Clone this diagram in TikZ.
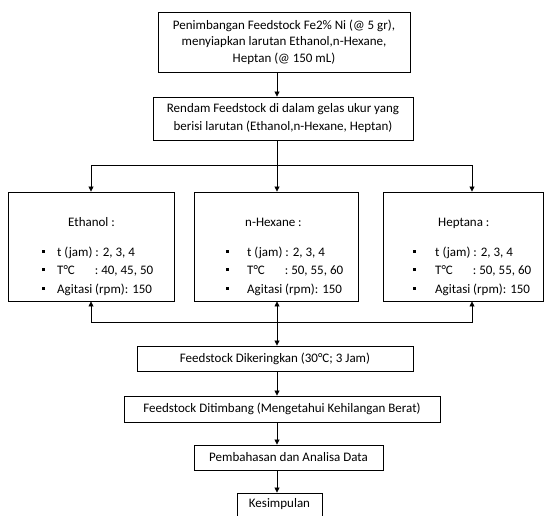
\documentclass[tikz,border=0pt]{standalone}
\usepackage{fontspec}
\setmainfont{Carlito}
\usetikzlibrary{arrows.meta}

\newcommand{\sq}{\raisebox{0.28em}{\rule{3pt}{3pt}}}
% #1 title, #2 title indent, #3 temperatures, #4 bullet gap
\newcommand{\solvlist}[4]{%
  \begin{tabular}{@{}p{#4}@{}l@{}}
    & \hspace*{#2}#1 :\\[11.5pt]
    \sq & t (jam) : 2, 3, 4\\
    \sq & T°C\hspace{20pt}: #3\\
    \sq & Agitasi (rpm): 150
  \end{tabular}}

\begin{document}
\begin{tikzpicture}[x=1pt, y=-1pt,
    main/.style = {draw, rectangle, line width=0.9pt, inner sep=0pt, align=center,
                   font=\fontsize{13}{16.5}\selectfont},
    list/.style = {inner sep=0pt, anchor=west, font=\fontsize{13}{18.5}\selectfont},
    arr/.style = {-{Triangle[length=5pt,width=5pt]}, line width=0.8pt},
    link/.style = {line width=0.8pt}]
    \useasboundingbox (0,0) rectangle (545,515);

    \node[main, minimum width=252pt, minimum height=60pt] (start) at (284,42)
        {Penimbangan Feedstock Fe2\% Ni (@ 5 gr),\\ menyiapkan larutan Ethanol,n-Hexane,\\ Heptan (@ 150 mL)};
    \node[main, minimum width=260pt, minimum height=43pt, font=\fontsize{13}{18}\selectfont] (soak) at (283,118.5)
        {Rendam Feedstock di dalam gelas ukur yang\\ berisi larutan (Ethanol,n-Hexane, Heptan)};

    \node[main, minimum width=166pt, minimum height=109pt] (eth) at (91,246.5) {};
    \node[main, minimum width=164pt, minimum height=109pt] (hex) at (276,246.5) {};
    \node[main, minimum width=160pt, minimum height=109pt] (hep) at (463,246.5) {};
    \node[list] (ethtxt) at (42,256) {\solvlist{Ethanol}{11pt}{40, 45, 50}{15pt}};
    \node[list] (hextxt) at (226,256) {\solvlist{n-Hexane}{-2pt}{50, 55, 60}{21pt}};
    \node[list] (heptxt) at (413,256) {\solvlist{Heptana}{3pt}{50, 55, 60}{22pt}};

    \node[main, minimum width=276pt, minimum height=25pt] (dry) at (275,358.5)
        {Feedstock Dikeringkan (30°C; 3 Jam)};
    \node[main, minimum width=316pt, minimum height=26pt] (weigh) at (282,409)
        {Feedstock Ditimbang (Mengetahui Kehilangan Berat)};
    \node[main, minimum width=189pt, minimum height=25pt] (disc) at (288.5,457.5)
        {Pembahasan dan Analisa Data};
    \node[main, minimum width=85pt, minimum height=23pt] (concl) at (279.5,504.5)
        {Kesimpulan};

    \coordinate (spine) at (277,0);
    \coordinate (hepx) at (472,0);
    \coordinate (split) at (277,165);
    \coordinate (join) at (277,322);

    \draw[arr] (start.south -| spine) -- (soak.north -| spine);
    \draw[link] (soak.south -| split) -- (split);
    \draw[arr] (split) -| (eth.north);
    \draw[arr] (split) -- (hex.north -| split);
    \draw[arr] (split) -| (hep.north -| hepx);

    \draw[arr] (join) -| (eth.south);
    \draw[arr] (join) -| (hep.south -| hepx);
    \draw[arr, {Triangle[length=5pt,width=5pt]}-{Triangle[length=5pt,width=5pt]}] (hex.south -| join) -- (dry.north -| join);

    \draw[arr] (dry.south -| spine) -- (weigh.north -| spine);
    \draw[arr] (weigh.south -| spine) -- (disc.north -| spine);
    \draw[arr] (disc.south -| spine) -- (concl.north -| spine);
\end{tikzpicture}
\end{document}
